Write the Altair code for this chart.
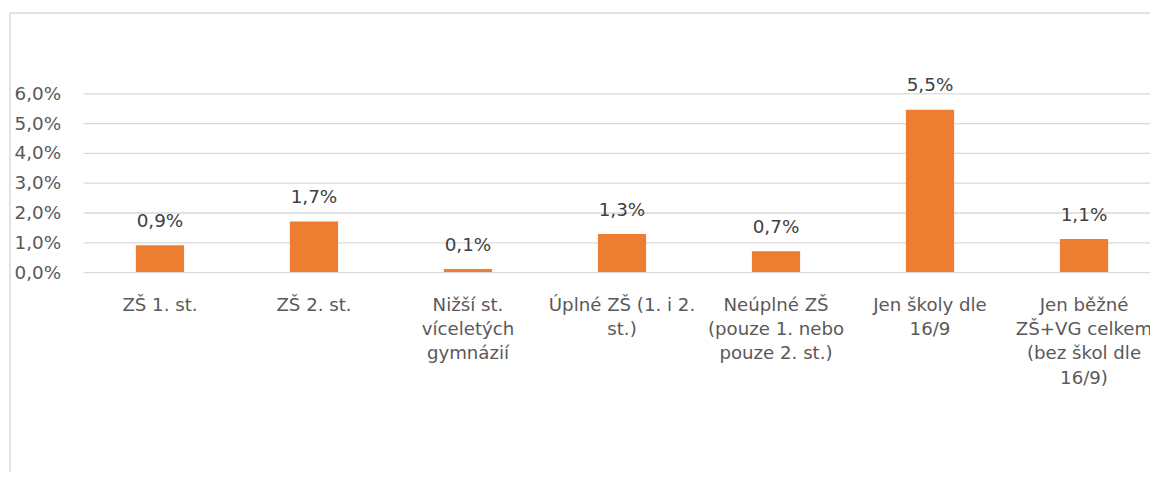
import altair as alt
import pandas as pd

categories = [
    "ZŠ 1. st.",
    "ZŠ 2. st.",
    "Nižší st.\nvíceletých\ngymnázií",
    "Úplné ZŠ (1. i 2.\nst.)",
    "Neúplné ZŠ\n(pouze 1. nebo\npouze 2. st.)",
    "Jen školy dle\n16/9",
    "Jen běžné\nZŠ+VG celkem\n(bez škol dle\n16/9)",
]
values = [0.9, 1.7, 0.1, 1.28, 0.7, 5.45, 1.11]
y_ticks = [0, 1, 2, 3, 4, 5, 6]

df = pd.DataFrame({"cat": categories, "v": values})

FONT = "DejaVu Sans"
GRID = "#d9d9d9"
TEXT = "#595959"

x_scale = alt.Scale(range=[0, 1085.6], paddingInner=0.687, paddingOuter=0.3435)
y_scale = alt.Scale(domain=[0, 6], nice=False)

x_enc = alt.X(
    "cat:N",
    sort=categories,
    title=None,
    scale=x_scale,
    axis=alt.Axis(
        labelExpr="split(datum.label, '\\n')",
        labelAngle=0,
        labelAlign="center",
        labelBaseline="top",
        labelPadding=24.5,
        labelLineHeight=24.5,
        labelFontSize=18.3,
        labelFont=FONT,
        labelColor=TEXT,
        labelOverlap=False,
        labelBound=False,
        labelFlush=False,
        ticks=False,
        domain=False,
        grid=False,
    ),
)

y_enc = alt.Y(
    "v:Q",
    scale=y_scale,
    title=None,
    axis=alt.Axis(
        values=y_ticks,
        labelExpr="replace(format(datum.value, '.1f'), '.', ',') + '%'",
        labelAlign="left",
        labelPadding=69.5,
        labelFontSize=18.5,
        labelFont=FONT,
        labelColor=TEXT,
        labelOverlap=False,
        ticks=False,
        domain=False,
        grid=True,
        gridColor=GRID,
        gridWidth=1.3,
    ),
)

base = alt.Chart(df).encode(x=x_enc, y=y_enc)

bars = base.mark_bar(color="#ED7D31")

labels = base.transform_calculate(
    lbl="replace(format(datum.v, '.1f'), '.', ',') + '%'"
).mark_text(
    dy=-18.5, baseline="alphabetic", align="center", fontSize=18.5, font=FONT, color="#404040"
).encode(text="lbl:N")

frame_df = pd.DataFrame({"a": [0]})
frame_left = alt.Chart(frame_df).mark_rule(color=GRID, strokeWidth=1.5).encode(
    x=alt.value(-73.5), y=alt.value(-80.8), y2=alt.value(400)
)
frame_top = alt.Chart(frame_df).mark_rule(color=GRID, strokeWidth=1.5).encode(
    x=alt.value(-73.5), x2=alt.value(1200), y=alt.value(-80.8)
)

chart = (
    alt.layer(frame_left, frame_top, bars, labels)
    .properties(
        width=1074.5,
        height=180,
        background="white",
        autosize=alt.AutoSizeParams(type="none"),
        padding={"left": 75.5, "top": 84.3, "right": 0, "bottom": 200},
    )
    .configure_view(stroke=None, strokeWidth=0)
)

chart.save("out.html", embed_options={"renderer": "svg", "actions": False})
